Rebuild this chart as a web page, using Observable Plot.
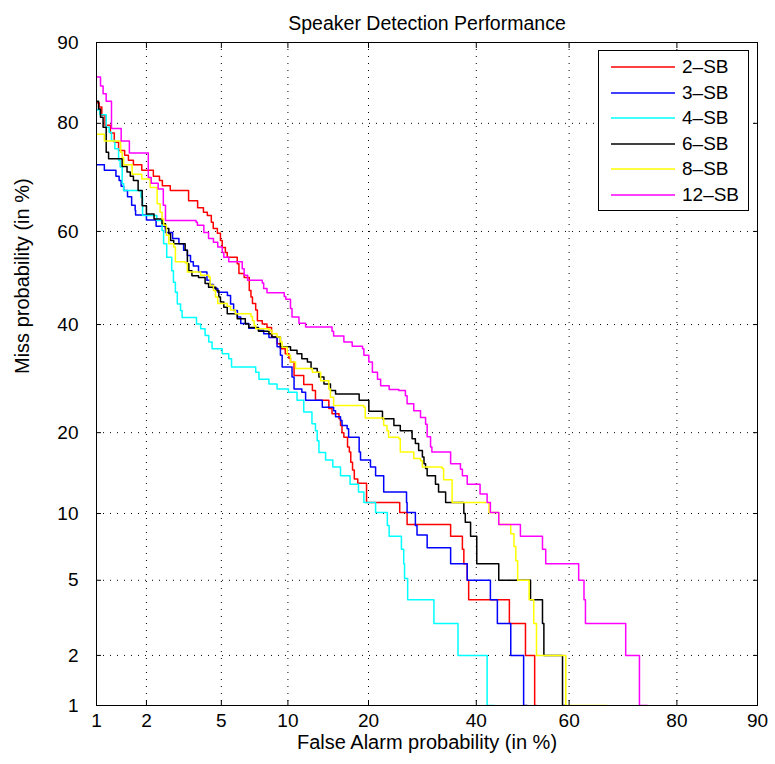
<!DOCTYPE html>
<html><head><meta charset="utf-8">
<script src="https://cdn.jsdelivr.net/npm/d3@7"></script>
<script src="https://cdn.jsdelivr.net/npm/@observablehq/plot@0.6"></script>
<style>
body{margin:0;background:#fff;}
#wrap{position:relative;width:775px;height:764px;font-family:"Liberation Sans",Arial,Helvetica,sans-serif;}
#legend{position:absolute;left:598px;top:50px;width:151px;height:161px;border:1px solid #000;background:#fff;box-sizing:border-box;font-size:19px;}
.row{position:absolute;left:0;width:150px;height:24px;}
.row svg{position:absolute;left:12px;top:0;}
.row span{position:absolute;left:83px;top:0;line-height:24px;}
</style></head><body><div id="wrap"></div>
<script>
// Axis ticks (percent)
const faTicks = [1, 2, 5, 10, 20, 40, 60, 80, 90];
const missTicks = [1, 2, 5, 10, 20, 40, 60, 80, 90];
const gridVals = [2, 5, 10, 20, 40, 60, 80];
const seriesNames = ["2–SB", "3–SB", "4–SB", "6–SB", "8–SB", "12–SB"];
const seriesColors = ["#ff0000", "#0000ff", "#00ffff", "#000000", "#ffff00", "#ff00ff"];

// 2-SB (False alarm %, Miss %) staircase corners
const fa2 = [1.0,1.04,1.08,1.13,1.22,1.29,1.37,1.49,1.57,1.68,1.88,2.19,2.37,2.46,2.72,3.41,3.8,4.07,4.26,4.46,4.56,4.78,4.95,5.05,5.23,5.34,5.96,6.07,6.42,6.78,6.9,7.01,7.25,7.38,7.76,8.14,8.52,9.0,9.3,9.75,10.1,10.25,10.6,11.6,12.55,12.9,14.5,14.9,15.8,16,16.2,16.45,16.95,17.2,17.4,17.65,17.9,18.4,19.7,25.1,26.4,34.7,37.1,37.4,38.1,38.4,47.1,50.6,52.6,53];
const miss2 = [83,82.4,81.2,79.7,78.5,77,75.6,74.8,73.9,73.1,72.1,71,70.2,69.2,68.3,66.3,64.9,64,63.3,61.9,60.6,59.6,58.1,56.6,55.5,54.5,53.1,51,50.1,47.3,45.9,44.5,43.1,40.8,40.1,39.4,37.4,36,35,34,33.1,32.4,29.8,28.1,27,25.3,23.9,23,22.2,21.1,20,19.3,17.9,17.2,15.8,14.8,13.7,13.2,11.1,10.1,9,8,7,6,5,4,3,2,1,1];

// 3-SB
const fa3 = [1.0,1.12,1.32,1.38,1.42,1.47,1.55,1.64,1.72,1.73,2.0,2.27,2.56,2.8,3.03,3.21,3.36,3.49,3.61,3.84,4.24,4.4,4.57,4.8,5.35,5.54,5.73,5.97,6.19,6.74,7.46,7.87,8.3,9.0,9.3,9.46,10.4,10.6,11.4,11.8,13.7,15.1,15.35,16,16.2,16.9,17.1,18.6,18.8,20.3,21.1,22.4,26.3,26.4,27.9,28.2,30.1,34.7,38.1,43,44.5,47.4,50.2,51];
const miss3 = [73.1,72.1,71,70.2,69.1,68.3,67.1,65.4,64.4,63.4,62.4,61.1,59.8,58.5,57.4,56,54.9,53.5,52.6,51.3,49.5,48.6,47.7,46.9,46.2,44.4,43,41.6,40.2,39.2,38.8,38.1,37.3,35.4,33.7,31.4,29.5,27.3,26.7,25.3,24.1,23.5,22.5,21.9,21.1,20.6,19.3,17.2,16.1,15.2,14.1,12.2,11.1,10.1,8.9,8.1,7.1,6,5,4,3,2,1,1];

// 4-SB
const fa4 = [1.0,1.05,1.15,1.2,1.24,1.3,1.37,1.4,1.44,1.47,1.86,1.9,2.29,2.45,2.5,2.6,2.77,2.83,2.9,2.97,3.09,3.15,3.75,3.94,4.15,4.33,4.5,5.05,5.43,5.6,7.25,7.5,8.3,9.0,10.05,10.9,11.6,12.5,12.9,13.1,13.3,14.1,15,16,17.3,18.5,19.3,21.1,23,23.3,25.4,25.8,25.95,26.5,31.4,36.2,42.3,43.8];
const miss4 = [82,81.3,79.4,78.6,77.3,75.9,73.9,72.7,69.6,68.3,67,63.3,62.3,60.2,57.4,54.5,51.6,49.1,46.9,44.4,43,41.5,40.1,39.1,37.7,36.4,35,34,33,31.4,30.4,29.1,28.2,27.3,26.7,25.3,23.3,21.4,20.3,18.8,17.1,16.1,15.2,14.1,13.1,12.2,11.1,10.1,8.9,8,7,6,5.1,4,3,2,1,1];

// 6-SB
const fa6 = [1.0,1.03,1.06,1.1,1.15,1.19,1.44,1.54,1.61,1.68,1.79,1.89,2.0,2.21,2.45,2.56,2.67,2.73,2.84,3.27,3.36,3.42,3.55,3.84,4.15,4.32,4.7,4.86,4.95,5.14,5.34,5.96,6.5,6.74,7.46,8.3,8.55,9.3,10.25,10.9,11.4,12,12.4,13.1,13.3,13.9,14.7,15.35,18.6,20.05,22.2,24.1,25.2,27.3,27.9,28.5,29.2,29.5,29.8,30.1,31.7,32.3,33.7,37.4,37.7,38.8,40.1,44.8,51.7,54.3,54.6,58.6,59.1];
const miss6 = [83.2,82.1,80.9,79.4,75.3,74.2,72.8,71.8,71,70.2,68.3,65.3,63.6,62.6,61.6,60.6,59.5,58.1,57.4,56,53.1,51.6,50.5,50.1,48.8,48,47.3,45.9,44.8,43.7,42.3,41.2,40.1,39.4,38.6,38.1,37.4,35.4,34.7,34,33,32.4,31.1,30.4,29.5,28.2,27,26.4,25.3,23.4,22.2,21.1,20.3,19.1,18.4,17.4,16.5,15.6,15,14.1,13.1,12.2,11.1,10,9.2,8,6,5,4,3,2,1,1];

// 8-SB
const fa8 = [1.0,1.12,1.41,1.44,1.47,1.65,1.88,2.1,2.3,2.39,2.45,2.5,2.59,2.67,2.84,2.9,3.27,3.36,3.94,4.33,4.4,4.57,4.68,4.8,5.34,5.54,5.84,6.9,7.01,7.13,7.25,8.3,8.55,9.0,9.3,9.46,9.94,10.25,10.75,12.55,13.5,14.5,14.7,15.1,19.3,19.5,22.4,22.95,23.2,24.95,25.2,27.6,28.85,29.2,33,33.3,35,42.7,44.8,47.4,48.1,48.5,48.9,51.4,52.4,53,59.3,67.7];
const miss8 = [78.3,77.2,75.3,74.4,73.1,71.4,70.5,68.9,65.7,64,62.6,61.3,59.2,57.4,56.7,53.5,53.3,51.3,50.6,50.2,48.4,47.3,45.9,44.5,43.9,43.1,42.3,41.7,40.8,39.8,39.1,38.8,38.1,37.4,36.4,35.3,33.7,32.4,31.1,30.4,28.8,27.3,25.8,24.4,24.1,22.3,21.1,20.3,19.3,19.1,17.2,16.3,16,15.2,15,13.6,11.1,10.1,9,8.2,7.2,6.2,5,4,3,2,1,1];

// 12-SB
const fa12 = [1.0,1.06,1.1,1.15,1.24,1.42,1.59,2.05,2.13,2.33,2.49,2.56,3.73,3.79,4.09,4.32,4.57,4.8,5.05,5.14,5.43,6.29,6.42,6.66,7.76,7.87,8.14,9.65,9.8,10.25,10.4,11.1,11.8,14.9,15.1,16.45,17.6,19.1,19.3,20.05,20.6,21.4,21.9,23.3,24.95,26.1,26.4,27.6,28.85,29.8,30.1,30.75,31,34.7,36.7,37.1,38.1,40.8,42.3,43,44.8,49.5,54.3,55,62,63.1,63.4,71.3,73.8,75.2];
const miss12 = [86.3,85.2,84.2,83.2,79.2,77.2,75.2,70.8,69.7,68.6,65.4,62.3,61.9,61.3,59.8,58.5,57.7,56.7,55.5,54.5,53.5,52,50.6,49.5,48.9,47.7,46.8,46,45.4,43.4,41.6,40.3,39.5,38.6,37.6,36.4,35.5,35,33.7,32.4,30.4,29.1,27.9,27.2,27,26.1,24.7,23.5,22.4,21.3,19.4,17.9,17.2,15.6,14.9,14.1,13.1,12,11.1,10.1,9,8,7,6,5,4,3,2,1,1];

const seriesFA = [fa2, fa3, fa4, fa6, fa8, fa12];
const seriesMiss = [miss2, miss3, miss4, miss6, miss8, miss12];

// inverse standard normal CDF (Acklam)
function probit(p) {
  const a=[-3.969683028665376e+01,2.209460984245205e+02,-2.759285104469687e+02,1.383577518672690e+02,-3.066479806614716e+01,2.506628277459239e+00];
  const b=[-5.447609879822406e+01,1.615858368580409e+02,-1.556989798598866e+02,6.680131188771972e+01,-1.328068155288572e+01];
  const c=[-7.784894002430293e-03,-3.223964580411365e-01,-2.400758277161838e+00,-2.549732539343734e+00,4.374664141464968e+00,2.938163982698783e+00];
  const d=[7.784695709041462e-03,3.224671290700398e-01,2.445134137142996e+00,3.754408661907416e+00];
  const pl = 0.02425, ph = 1 - pl;
  let q, r;
  if (p < pl) { q = Math.sqrt(-2*Math.log(p)); return (((((c[0]*q+c[1])*q+c[2])*q+c[3])*q+c[4])*q+c[5])/((((d[0]*q+d[1])*q+d[2])*q+d[3])*q+1); }
  if (p <= ph) { q = p - 0.5; r = q*q; return (((((a[0]*r+a[1])*r+a[2])*r+a[3])*r+a[4])*r+a[5])*q/(((((b[0]*r+b[1])*r+b[2])*r+b[3])*r+b[4])*r+1); }
  q = Math.sqrt(-2*Math.log(1-p)); return -(((((c[0]*q+c[1])*q+c[2])*q+c[3])*q+c[4])*q+c[5])/((((d[0]*q+d[1])*q+d[2])*q+d[3])*q+1);
}
const P = v => probit(v / 100);
const fmtFrom = ticks => v => { const t = ticks.find(t => Math.abs(P(t) - v) < 1e-6); return t === undefined ? "" : String(t); };

const font = '"Liberation Sans", Arial, Helvetica, sans-serif';
const lineMarks = seriesFA.map((fa, s) =>
  Plot.line(fa.map((f, i) => ({fa: f, miss: seriesMiss[s][i]})), {
    x: d => P(d.fa), y: d => P(d.miss), stroke: seriesColors[s], strokeWidth: 1.5, curve: "step-after", clip: true
  })
);

const chart = Plot.plot({
  width: 775, height: 764,
  marginTop: 42, marginBottom: 59, marginLeft: 96, marginRight: 18,
  style: {fontFamily: font, fontSize: "19px", background: "white", color: "black", overflow: "visible"},
  x: {type: "linear", domain: [P(1), P(90)]},
  y: {type: "linear", domain: [P(1), P(90)]},
  marks: [
    Plot.ruleX(gridVals, {x: d => P(d), stroke: "#000", strokeWidth: 1, strokeDasharray: "1,6"}),
    Plot.ruleY(gridVals, {y: d => P(d), stroke: "#000", strokeWidth: 1, strokeDasharray: "1,6"}),
    ...lineMarks,
    Plot.axisX({anchor: "bottom", ticks: faTicks.map(P), tickFormat: fmtFrom(faTicks), tickSize: -5, tickPadding: 13, label: null, fontSize: 19}),
    Plot.axisX({anchor: "top", ticks: faTicks.map(P), tickFormat: () => "", tickSize: -5, label: null}),
    Plot.axisY({anchor: "left", ticks: missTicks.map(P), tickFormat: fmtFrom(missTicks), tickSize: -5, tickPadding: 23, label: null, fontSize: 19}),
    Plot.axisY({anchor: "right", ticks: missTicks.map(P), tickFormat: () => "", tickSize: -5, label: null}),
    Plot.frame({stroke: "black", strokeWidth: 1}),
    Plot.text(["Speaker Detection Performance"], {text: d => d, frameAnchor: "top", dy: -26, fontSize: 19.5}),
    Plot.text(["False Alarm probability (in %)"], {text: d => d, frameAnchor: "bottom", dy: 43, fontSize: 20}),
    Plot.text(["Miss probability (in %)"], {text: d => d, frameAnchor: "left", dx: -74, rotate: -90, fontSize: 20})
  ]
});
const wrap = document.getElementById("wrap");
wrap.appendChild(chart);

// legend
const leg = document.createElement("div");
leg.id = "legend";
seriesNames.forEach((name, i) => {
  const row = document.createElement("div");
  row.className = "row";
  row.style.top = (4 + i * 25.5) + "px";
  row.innerHTML = `<svg width="66" height="24"><line x1="0" x2="64" y1="12" y2="12" stroke="${seriesColors[i]}" stroke-width="1.5"/></svg><span>${name}</span>`;
  leg.appendChild(row);
});
wrap.appendChild(leg);
</script></body></html>
